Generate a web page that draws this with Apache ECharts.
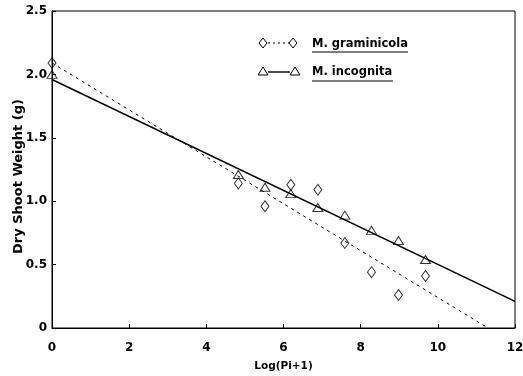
<!DOCTYPE html>
<html>
<head>
<meta charset="utf-8">
<script src="https://cdn.jsdelivr.net/npm/echarts@6/dist/echarts.min.js"></script>
<style>
  html, body { margin: 0; padding: 0; background: #fff; }
  #main { width: 523px; height: 376px; }
</style>
</head>
<body>
<div id="main"></div>
<script>
const gramX = [0, 4.83, 5.52, 6.19, 6.89, 7.59, 8.28, 8.98, 9.68];
const gramY = [2.09, 1.14, 0.96, 1.13, 1.09, 0.67, 0.44, 0.26, 0.41];
const incX = [0, 4.83, 5.52, 6.19, 6.89, 7.59, 8.28, 8.98, 9.68];
const incY = [2.0, 1.21, 1.11, 1.06, 0.95, 0.89, 0.77, 0.69, 0.54];
// fitted regression lines (end points)
const gramFitX = [0, 11.3];
const gramFitY = [2.09, 0];
const incFitX = [0, 12];
const incFitY = [1.96, 0.21];
const xTicks = [0, 2, 4, 6, 8, 10, 12];
const yTicks = [0, 0.5, 1.0, 1.5, 2.0, 2.5];

const font = '"DejaVu Sans", Verdana, sans-serif';
const zip = (xs, ys) => xs.map((x, i) => [x, ys[i]]);

const chart = echarts.init(document.getElementById('main'), null, { renderer: 'canvas' });

chart.setOption({
    animation: false,
    grid: {
        left: 52, right: 8, top: 11, bottom: 48,
        outerBoundsMode: 'none', containLabel: false,
        show: true, borderColor: '#000', borderWidth: 1
    },
    xAxis: {
        type: 'value',
        min: xTicks[0],
        max: xTicks[xTicks.length - 1],
        interval: 2,
        name: 'Log(Pi+1)',
        nameLocation: 'center',
        nameGap: 33,
        nameMoveOverlap: false,
        nameTextStyle: { fontFamily: font, fontWeight: 'bold', fontSize: 10.5, color: '#000' },
        axisLine: { lineStyle: { color: '#000', width: 1 } },
        axisTick: { inside: true, length: 4, lineStyle: { color: '#000' } },
        axisLabel: { fontFamily: font, fontWeight: 'bold', fontSize: 12, color: '#000', margin: 14 },
        splitLine: { show: false }
    },
    yAxis: {
        type: 'value',
        min: yTicks[0],
        max: yTicks[yTicks.length - 1],
        interval: 0.5,
        name: 'Dry Shoot Weight (g)',
        nameLocation: 'center',
        nameGap: 27,
        nameMoveOverlap: false,
        nameTextStyle: { fontFamily: font, fontWeight: 'bold', fontSize: 13, color: '#000', padding: [0, 14, 0, 0] },
        axisLine: { show: true, lineStyle: { color: '#000', width: 1 } },
        axisTick: { show: true, inside: true, length: 4, lineStyle: { color: '#000' } },
        axisLabel: {
            fontFamily: font, fontWeight: 'bold', fontSize: 12, color: '#000', margin: 5,
            formatter: v => v === 0 ? '0' : v.toFixed(1)
        },
        splitLine: { show: false }
    },
    graphic: [
        // legend row 1: diamond ··· diamond  M. graminicola
        { type: 'line', shape: { x1: 268, y1: 43, x2: 289, y2: 43 }, style: { stroke: '#000', lineWidth: 1, lineDash: [2, 3] } },
        { type: 'polygon', shape: { points: [[263, 38], [267, 43], [263, 48], [259, 43]] }, style: { fill: '#fff', stroke: '#000', lineWidth: 1 } },
        { type: 'polygon', shape: { points: [[293, 38], [297, 43], [293, 48], [289, 43]] }, style: { fill: '#fff', stroke: '#000', lineWidth: 1 } },
        { type: 'text', x: 312, y: 44, style: { text: 'M. graminicola', font: 'bold 11.5px ' + font, fill: '#000', textVerticalAlign: 'middle' } },
        { type: 'line', shape: { x1: 312, y1: 52, x2: 408, y2: 52 }, style: { stroke: '#000', lineWidth: 1.2 } },
        // legend row 2: triangle — triangle  M. incognita
        { type: 'line', shape: { x1: 268, y1: 72, x2: 290, y2: 72 }, style: { stroke: '#000', lineWidth: 1.4 } },
        { type: 'polygon', shape: { points: [[263, 67], [268, 75], [258, 75]] }, style: { fill: '#fff', stroke: '#000', lineWidth: 1 } },
        { type: 'polygon', shape: { points: [[295, 67], [300, 75], [290, 75]] }, style: { fill: '#fff', stroke: '#000', lineWidth: 1 } },
        { type: 'text', x: 312, y: 72, style: { text: 'M. incognita', font: 'bold 11.5px ' + font, fill: '#000', textVerticalAlign: 'middle' } },
        { type: 'line', shape: { x1: 312, y1: 81, x2: 393, y2: 81 }, style: { stroke: '#000', lineWidth: 1.2 } }
    ],
    series: [
        {
            name: 'M. graminicola fit',
            type: 'line',
            data: zip(gramFitX, gramFitY),
            showSymbol: false,
            lineStyle: { color: '#000', width: 1, type: [3, 4] },
            z: 2
        },
        {
            name: 'M. incognita fit',
            type: 'line',
            data: zip(incFitX, incFitY),
            showSymbol: false,
            lineStyle: { color: '#000', width: 1.6 },
            z: 2
        },
        {
            name: 'M. graminicola',
            type: 'scatter',
            data: zip(gramX, gramY),
            symbol: 'diamond',
            symbolSize: [8, 11],
            itemStyle: { color: 'rgba(255,255,255,0)', borderColor: '#000', borderWidth: 1 },
            z: 3
        },
        {
            name: 'M. incognita',
            type: 'scatter',
            data: zip(incX, incY),
            symbol: 'triangle',
            symbolSize: [10, 8],
            itemStyle: { color: 'rgba(255,255,255,0)', borderColor: '#000', borderWidth: 1 },
            z: 3
        }
    ]
});
</script>
</body>
</html>
